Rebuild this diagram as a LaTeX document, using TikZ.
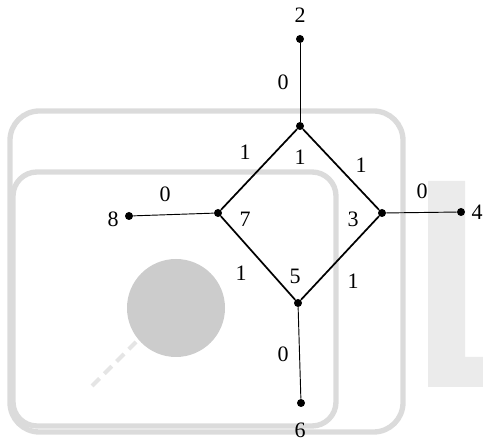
\documentclass[tikz,border=0pt]{standalone}
\usepackage{fontspec}
\setmainfont{Liberation Serif}
\usepackage{tikz}

\begin{document}
\begin{tikzpicture}[
  x=0.75pt, y=-0.75pt,
  V/.style={circle, fill=black, inner sep=0pt, minimum size=6pt},
  L/.style={inner sep=0pt, font=\fontsize{16.5}{18}\selectfont},
  ring/.style={line width=1.3pt},
  leg/.style={line width=0.7pt},
]
\useasboundingbox (0,0) rectangle (483,441);

%--- BACKGROUND MARK ---
\fill[black!8] (428,181) -- (465,181) -- (465,357) -- (483,357)
  -- (483,387) -- (428,387) -- cycle;
\draw[black!14, line width=4pt, rounded corners=22pt] (10,111) rectangle (403,432);
\draw[black!14, line width=4pt, rounded corners=18pt] (13,172) rectangle (336,426);
\fill[black!20] (176,308) circle (49);
\draw[black!10, line width=3pt, dashed, dash pattern=on 8pt off 5pt] (92,386) -- (136,342);

%--- VERTICES ---
\node[V] (v2) at (300,39)  {};
\node[V] (v1) at (300,126) {};
\node[V] (v7) at (218,213) {};
\node[V] (v3) at (382,213) {};
\node[V] (v5) at (298,303) {};
\node[V] (v8) at (129,216) {};
\node[V] (v4) at (461,212) {};
\node[V] (v6) at (301,403) {};

%--- VERTEX LABELS ---
\node[L] (t2) at (300,15)  {2};
\node[L] (t1) at (300,157) {1};
\node[L] (t7) at (245,219) {7};
\node[L] (t3) at (353,219) {3};
\node[L] (t5) at (295,276) {5};
\node[L] (t8) at (113,219) {8};
\node[L] (t4) at (477,212) {4};
\node[L] (t6) at (300,430) {6};

%--- EDGES ---
\draw[ring] (v1) -- (v7) -- (v5) -- (v3) -- (v1);
\draw[leg] (v2) -- (v1);
\draw[leg] (v8) -- (v7);
\draw[leg] (v3) -- (v4);
\draw[leg] (v5) -- (v6);

%--- EDGE WEIGHTS ---
\node[L] (w21) at (283,82)  {0};
\node[L] (w17) at (245,152) {1};
\node[L] (w13) at (361,165) {1};
\node[L] (w87) at (165,194) {0};
\node[L] (w34) at (422,191) {0};
\node[L] (w75) at (241,273) {1};
\node[L] (w53) at (353,281) {1};
\node[L] (w56) at (283,354) {0};
\end{tikzpicture}
\end{document}
